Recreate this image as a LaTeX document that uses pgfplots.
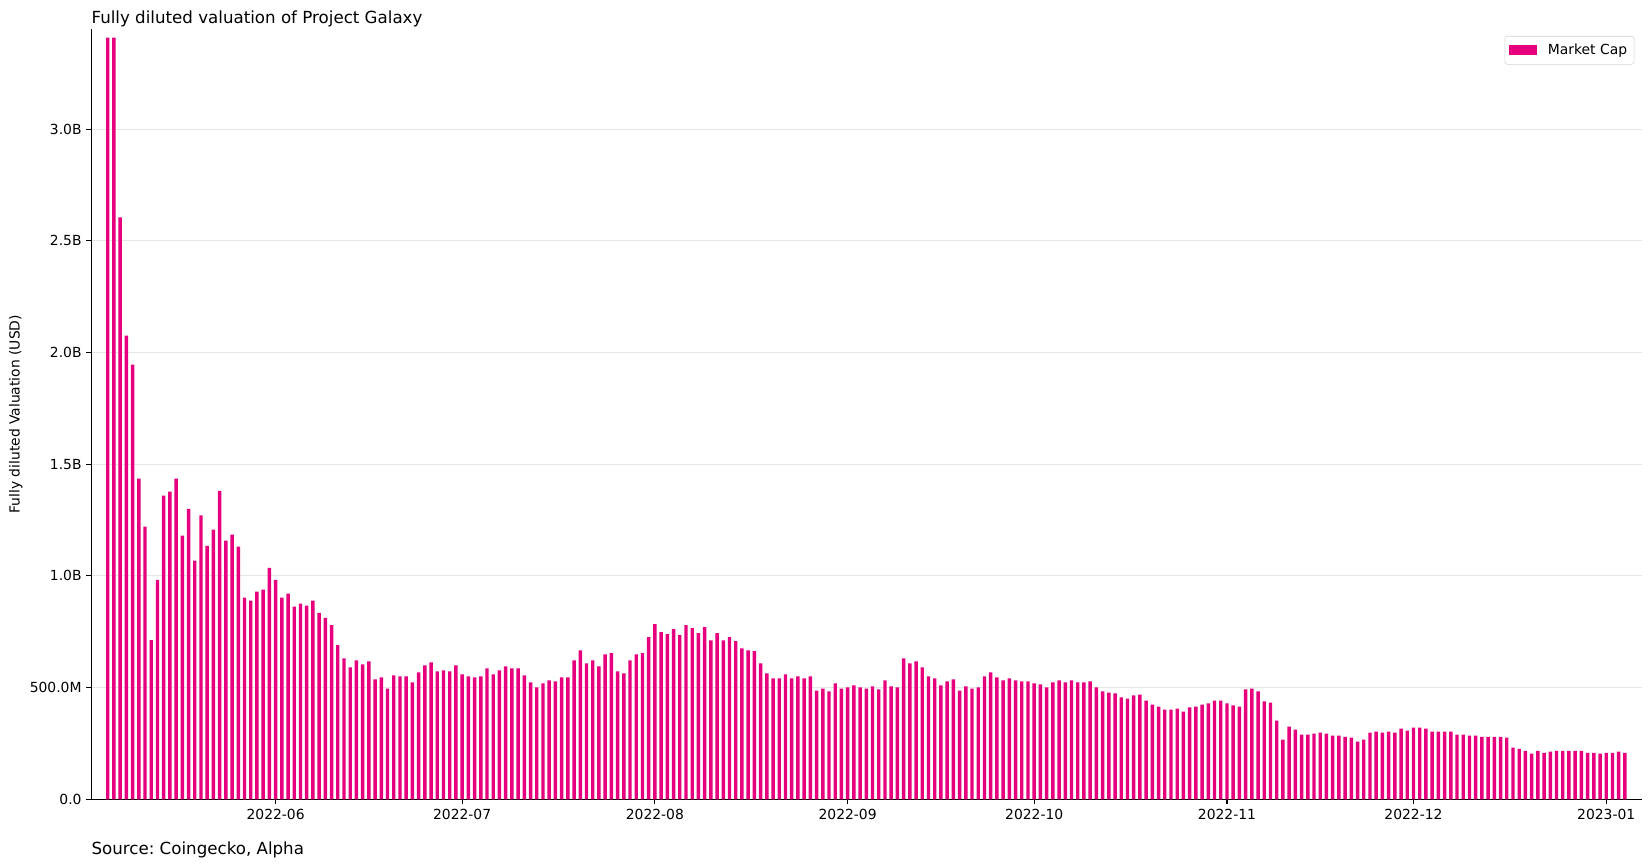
\documentclass[border=0pt]{standalone}
\usepackage{fontspec}
\setmainfont{DejaVu Sans}
\usepackage{pgfplots}
\pgfplotsset{compat=1.18}
\definecolor{fdvpink}{HTML}{E6007E}
\definecolor{gridgray}{HTML}{E6E6E6}
\begin{document}
\frenchspacing
\fontsize{10}{12}\selectfont
\begin{tikzpicture}
  \useasboundingbox (-65.74pt,-48.02pt) rectangle (1122.98pt,575.5pt);
  \begin{axis}[
      name=fdv,
      at={(0,0)}, anchor=south west,
      scale only axis,
      width=1116.29pt, height=554.4pt,
      xmin=-1.64, xmax=247.7,
      ymin=0, ymax=3447,
      axis x line*=bottom,
      axis y line*=left,
      axis line style={-, black, line width=0.8pt},
      tick style={black, line width=0.8pt},
      major tick length=3.5pt,
      tick align=outside,
      xtick={28,58,89,120,150,181,211,242},
      xticklabels={2022-06,2022-07,2022-08,2022-09,2022-10,2022-11,2022-12,2023-01},
      ytick={0,500,1000,1500,2000,2500,3000},
      yticklabels={0.0,500.0M,1.0B,1.5B,2.0B,2.5B,3.0B},
      ticklabel style={font=\fontsize{10}{12}\selectfont},
      ymajorgrids,
      major grid style={gridgray, line width=0.8pt},
      ybar, bar width=0.55,
      legend style={at={(1,1)}, anchor=north east, xshift=-5.3pt, yshift=-4.8pt,
        draw=gray!35, rounded corners=2pt, font=\fontsize{10}{12}\selectfont,
        inner xsep=3pt, inner ysep=3.6pt},
      legend image code/.code={%
        \fill[#1, sharp corners] (0pt,-3.6pt) rectangle (20.4pt,3.6pt);
        \path (26pt,0pt);},
    ]
    \addplot[fill=fdvpink, draw=none] coordinates {
      (1,3410) (2,3410) (3,2605) (4,2076) (5,1946) (6,1435) (7,1221) (8,713) (9,982) (10,1359)
      (11,1377) (12,1435) (13,1180) (14,1300) (15,1068) (16,1271) (17,1135) (18,1207) (19,1381) (20,1158)
      (21,1185) (22,1131) (23,903) (24,889) (25,930) (26,939) (27,1036) (28,982) (29,903) (30,921)
      (31,862) (32,876) (33,867) (34,889) (35,835) (36,812) (37,780) (38,690) (39,631) (40,591)
      (41,622) (42,604) (43,618) (44,537) (45,546) (46,496) (47,555) (48,550) (49,550) (50,523)
      (51,568) (52,600) (53,613) (54,573) (55,577) (56,573) (57,600) (58,559) (59,550) (60,546)
      (61,550) (62,586) (63,559) (64,577) (65,595) (66,586) (67,586) (68,555) (69,523) (70,501)
      (71,519) (72,532) (73,528) (74,546) (75,546) (76,622) (77,667) (78,609) (79,622) (80,595)
      (81,649) (82,654) (83,573) (84,564) (85,622) (86,649) (87,654) (88,726) (89,784) (90,748)
      (91,739) (92,762) (93,735) (94,780) (95,766) (96,744) (97,771) (98,712) (99,744) (100,712)
      (101,726) (102,708) (103,676) (104,667) (105,663) (106,609) (107,564) (108,541) (109,541) (110,559)
      (111,541) (112,550) (113,541) (114,550) (115,487) (116,496) (117,483) (118,519) (119,496) (120,501)
      (121,510) (122,501) (123,496) (124,505) (125,492) (126,532) (127,505) (128,501) (129,631) (130,609)
      (131,618) (132,591) (133,550) (134,541) (135,510) (136,528) (137,537) (138,487) (139,505) (140,496)
      (141,501) (142,550) (143,568) (144,546) (145,532) (146,541) (147,532) (148,528) (149,528) (150,519)
      (151,514) (152,501) (153,523) (154,532) (155,523) (156,532) (157,523) (158,523) (159,528) (160,501)
      (161,483) (162,478) (163,474) (164,456) (165,451) (166,465) (167,469) (168,442) (169,424) (170,415)
      (171,402) (172,402) (173,406) (174,393) (175,411) (176,415) (177,424) (178,429) (179,442) (180,442)
      (181,429) (182,420) (183,415) (184,492) (185,496) (186,483) (187,438) (188,433) (189,352) (190,267)
      (191,325) (192,312) (193,289) (194,289) (195,294) (196,298) (197,294) (198,285) (199,285) (200,280)
      (201,276) (202,258) (203,267) (204,298) (205,303) (206,298) (207,303) (208,298) (209,316) (210,307)
      (211,321) (212,321) (213,316) (214,303) (215,303) (216,303) (217,303) (218,289) (219,289) (220,285)
      (221,285) (222,280) (223,280) (224,280) (225,280) (226,276) (227,231) (228,226) (229,217) (230,204)
      (231,217) (232,208) (233,213) (234,217) (235,217) (236,217) (237,217) (238,217) (239,208) (240,208)
      (241,204) (242,208) (243,208) (244,213) (245,208)
    };
    \addlegendentry{Market Cap}
  \end{axis}
  \node[anchor=base west, inner sep=0pt, font=\fontsize{12}{14}\selectfont] at (0pt,558.4pt) {Fully diluted valuation of Project Galaxy};
  \node[anchor=base west, inner sep=0pt, font=\fontsize{12}{14}\selectfont] at (0pt,-39.4pt) {Source: Coingecko, Alpha};
  \node[rotate=90, inner sep=0pt, font=\fontsize{10}{12}\selectfont] at (-54.4pt,277.2pt) {Fully diluted Valuation (USD)};
\end{tikzpicture}
\end{document}
